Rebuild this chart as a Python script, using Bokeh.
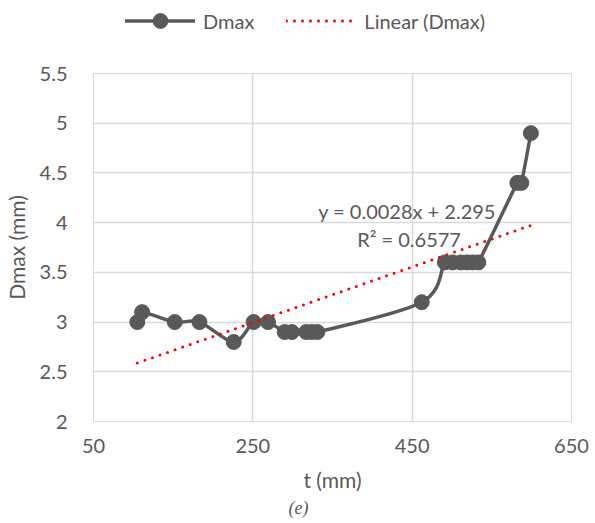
from bokeh.plotting import figure
from bokeh.layouts import column
from bokeh.models import (ColumnDataSource, FixedTicker, Label, Legend, LegendItem, Title)
from bokeh.embed import file_html
from bokeh.resources import INLINE

# Measured maximum displacement against time
t_mm = [105, 111, 152, 183, 226, 251, 269, 290, 299, 317, 324, 331,
        462, 491, 501, 511, 519, 526, 533, 582, 587, 599]
dmax_mm = [3.0, 3.1, 3.0, 3.0, 2.8, 3.0, 3.0, 2.9, 2.9, 2.9, 2.9, 2.9,
           3.2, 3.6, 3.6, 3.6, 3.6, 3.6, 3.6, 4.4, 4.4, 4.9]

# Linear trend line parameters
slope = 0.0028
intercept = 2.295
r_squared = 0.6577

x_ticks = [50, 250, 450, 650]
y_ticks = [2, 2.5, 3, 3.5, 4, 4.5, 5, 5.5]

GREY = "#595959"
GRID = "#d9d9d9"
RED = "#ff0000"
FONT = "Lato"

LINE_STYLE = dict(line_color=GREY, line_width=3.5, line_cap="round")
MARKER_STYLE = dict(size=15, color=GREY)
TREND_STYLE = dict(line_color=RED, line_width=3, line_dash="0 8", line_cap="round")

# ---------------- main chart ----------------
p = figure(width=595, height=463, x_range=(50, 650), y_range=(2, 5.5),
           output_backend="svg", toolbar_location=None,
           min_border_left=91, min_border_right=24,
           min_border_top=13, min_border_bottom=102)
p.outline_line_color = GRID

# Smoothed connecting line: cubic Bezier segments (Catmull-Rom control points)
n = len(t_mm)
seg = dict(x0=[], y0=[], x1=[], y1=[], cx0=[], cy0=[], cx1=[], cy1=[])
for i in range(n - 1):
    xp, yp = (t_mm[i - 1], dmax_mm[i - 1]) if i > 0 else (t_mm[i], dmax_mm[i])
    xa, ya = t_mm[i], dmax_mm[i]
    xb, yb = t_mm[i + 1], dmax_mm[i + 1]
    xn, yn = (t_mm[i + 2], dmax_mm[i + 2]) if i + 2 < n else (xb, yb)
    seg["x0"].append(xa); seg["y0"].append(ya)
    seg["x1"].append(xb); seg["y1"].append(yb)
    seg["cx0"].append(xa + (xb - xp) / 6.0); seg["cy0"].append(ya + (yb - yp) / 6.0)
    seg["cx1"].append(xb - (xn - xa) / 6.0); seg["cy1"].append(yb - (yn - ya) / 6.0)

p.bezier(x0="x0", y0="y0", x1="x1", y1="y1", cx0="cx0", cy0="cy0",
         cx1="cx1", cy1="cy1", source=ColumnDataSource(seg), **LINE_STYLE)
p.scatter(t_mm, dmax_mm, **MARKER_STYLE)

# Linear trend over the measured range
tx = [min(t_mm), max(t_mm)]
ty = [slope * v + intercept for v in tx]
p.line(tx, ty, **TREND_STYLE)

# Axes
p.xaxis.ticker = FixedTicker(ticks=x_ticks)
p.yaxis.ticker = FixedTicker(ticks=y_ticks)
p.yaxis.major_label_overrides = {v: f"{v:g}" for v in y_ticks}
for ax in (p.xaxis[0], p.yaxis[0]):
    ax.axis_line_color = None
    ax.major_tick_line_color = None
    ax.minor_tick_line_color = None
    ax.major_label_text_font = FONT
    ax.major_label_text_font_size = "20px"
    ax.major_label_text_color = GREY
    ax.axis_label_text_font = FONT
    ax.axis_label_text_font_size = "21px"
    ax.axis_label_text_font_style = "normal"
    ax.axis_label_text_color = GREY
p.xaxis.axis_label = "t (mm)"
p.yaxis.axis_label = "Dmax (mm)"
p.xaxis.major_label_standoff = 11
p.yaxis.major_label_standoff = 20
p.xaxis.axis_label_standoff = 11
p.yaxis.axis_label_standoff = 8

p.grid.grid_line_color = GRID
p.grid.grid_line_width = 1.5

# Trend equation
p.add_layout(Label(x=332, y=4.12, text=f"y = {slope}x + {intercept}",
                   text_font=FONT, text_font_size="20px", text_color=GREY,
                   text_align="left", text_baseline="middle"))
p.add_layout(Label(x=381, y=3.84, text=f"R² = {r_squared}",
                   text_font=FONT, text_font_size="20px", text_color=GREY,
                   text_align="left", text_baseline="middle"))

# Panel caption
p.add_layout(Title(text="(e)", align="left", offset=195,
                   text_font="Liberation Serif", text_font_style="italic",
                   text_font_size="18px", text_color=GREY, standoff=2), "below")

# ---------------- legend strip ----------------
leg = figure(width=595, height=60, x_range=(0, 1), y_range=(0, 1),
             output_backend="svg", toolbar_location=None,
             x_axis_location=None, y_axis_location=None, min_border=0)
leg.grid.visible = False
leg.outline_line_color = None
# legend glyph carriers, placed outside the visible range
l_line = leg.line([5, 6], [5, 6], **LINE_STYLE)
l_pts = leg.scatter([5], [5], **MARKER_STYLE)
l_trend = leg.line([5, 6], [5, 6], **TREND_STYLE)
legend = Legend(items=[LegendItem(label="Dmax", renderers=[l_line, l_pts]),
                       LegendItem(label="Linear (Dmax)", renderers=[l_trend])],
                orientation="horizontal", location=(32, 21),
                glyph_width=70, glyph_height=37, label_standoff=8, spacing=32,
                padding=0, margin=0, border_line_alpha=0,
                background_fill_alpha=0, label_text_font=FONT,
                label_text_font_size="20px", label_text_color=GREY)
leg.add_layout(legend)

layout = column(leg, p, spacing=0)
open("out.html", "w").write(file_html(layout, INLINE))
